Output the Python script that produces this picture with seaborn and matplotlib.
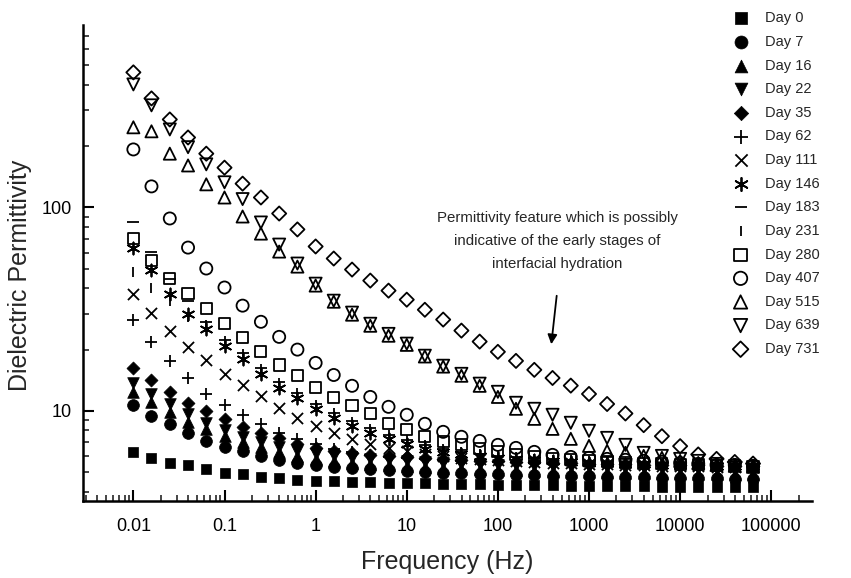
import numpy as np
import pandas as pd
import matplotlib
matplotlib.use("Agg")
import matplotlib.pyplot as plt
import seaborn as sns
from matplotlib.ticker import FixedLocator, FixedFormatter, LogLocator, NullFormatter

# ---- data ----
frequency = [0.01, 0.0158, 0.0251, 0.0398, 0.0631, 0.1, 0.158, 0.251, 0.398, 0.631,
             1, 1.58, 2.51, 3.98, 6.31, 10, 15.8, 25.1, 39.8, 63.1,
             100, 158, 251, 398, 631, 1000, 1580, 2510, 3980, 6310,
             10000, 15800, 25100, 39800, 63100]

day_0 = [6.28, 5.87, 5.54, 5.42, 5.18, 4.95, 4.90, 4.73, 4.68, 4.57, 4.52, 4.52, 4.47, 4.47, 4.42,
         4.42, 4.42, 4.37, 4.37, 4.37, 4.32, 4.32, 4.32, 4.32, 4.28, 4.28, 4.28, 4.28, 4.28, 4.23,
         4.23, 4.23, 4.23, 4.23, 4.23]
day_7 = [10.7, 9.45, 8.63, 7.79, 7.11, 6.65, 6.35, 6.00, 5.74, 5.54, 5.42, 5.30, 5.24, 5.18, 5.12,
         5.06, 5.00, 4.95, 4.95, 4.90, 4.90, 4.84, 4.84, 4.78, 4.78, 4.78, 4.73, 4.73, 4.73, 4.68,
         4.68, 4.68, 4.68, 4.63, 4.63]
day_16 = [12.4, 11.1, 9.89, 8.83, 8.15, 7.53, 7.04, 6.65, 6.28, 6.00, 5.80, 5.67, 5.54, 5.48, 5.42,
          5.36, 5.30, 5.24, 5.18, 5.18, 5.12, 5.12, 5.06, 5.06, 5.00, 5.00, 5.00, 4.95, 4.95, 4.95,
          4.95, 4.90, 4.90, 4.90, 4.90]
day_22 = [13.7, 12.1, 10.8, 9.66, 8.73, 8.06, 7.45, 7.04, 6.65, 6.35, 6.14, 6.00, 5.87, 5.80, 5.74,
          5.67, 5.61, 5.54, 5.48, 5.48, 5.42, 5.42, 5.36, 5.36, 5.30, 5.30, 5.30, 5.24, 5.24, 5.24,
          5.24, 5.18, 5.18, 5.18, 5.18]
day_35 = [16.3, 14.2, 12.4, 10.95, 10.0, 9.13, 8.34, 7.79, 7.36, 6.88, 6.57, 6.35, 6.21, 6.07, 6.00,
          5.93, 5.87, 5.80, 5.74, 5.67, 5.67, 5.61, 5.61, 5.54, 5.54, 5.48, 5.48, 5.48, 5.42, 5.42,
          5.42, 5.42, 5.36, 5.36, 5.36]
day_62 = [28.1, 21.9, 17.6, 14.5, 12.1, 10.7, 9.56, 8.63, 7.79, 7.28, 6.88, 6.50, 6.28, 6.07, 5.93,
          5.87, 5.80, 5.74, 5.67, 5.67, 5.61, 5.61, 5.54, 5.54, 5.54, 5.48, 5.48, 5.48, 5.42, 5.42,
          5.42, 5.42, 5.36, 5.36, 5.36]
day_111 = [37.7, 30.4, 24.8, 20.7, 17.8, 15.2, 13.4, 11.85, 10.3, 9.24, 8.44, 7.79, 7.28, 6.88, 6.57,
           6.35, 6.14, 6.00, 5.87, 5.80, 5.74, 5.67, 5.61, 5.54, 5.54, 5.48, 5.48, 5.42, 5.42, 5.36,
           5.36, 5.36, 5.30, 5.30, 5.30]
day_146 = [63.5, 49.0, 37.7, 30.1, 25.3, 20.9, 18.0, 15.2, 13.0, 11.6, 10.2, 9.24, 8.44, 7.79, 7.28,
           6.88, 6.50, 6.28, 6.14, 6.00, 5.87, 5.80, 5.74, 5.67, 5.61, 5.54, 5.54, 5.48, 5.48, 5.42,
           5.42, 5.42, 5.36, 5.36, 5.36]
day_183 = [85.3, 60.7, 44.7, 34.5, 27.2, 22.3, 19.2, 16.2, 13.8, 12.3, 10.8, 9.8, 8.9, 8.2, 7.6,
           7.2, 6.8, 6.5, 6.3, 6.15, 6.0, 5.9, 5.85, 5.78, 5.7, 5.65, 5.6, 5.57, 5.55, 5.52,
           5.5, 5.48, 5.45, 5.43, 5.42]
day_231 = [47.9, 40.4, 34.8, 29.0, 26.5, 22.0, 19.0, 16.0, 13.7, 12.2, 10.7, 9.7, 8.85, 8.15, 7.6,
           7.15, 6.75, 6.5, 6.3, 6.15, 6.0, 5.9, 5.82, 5.75, 5.7, 5.65, 5.6, 5.56, 5.53, 5.5,
           5.48, 5.46, 5.44, 5.42, 5.4]
day_280 = [70.4, 54.8, 44.7, 37.7, 31.8, 26.8, 22.9, 19.5, 16.8, 14.9, 13.0, 11.6, 10.58, 9.66, 8.63,
           8.06, 7.45, 7.04, 6.80, 6.50, 6.28, 6.07, 5.93, 5.80, 5.74, 5.67, 5.61, 5.54, 5.48, 5.48,
           5.42, 5.42, 5.36, 5.36, 5.30]
day_407 = [193, 127, 88.3, 63.5, 50.1, 40.4, 32.9, 27.4, 23.1, 20.0, 17.2, 15.0, 13.27, 11.7, 10.46,
           9.56, 8.63, 7.88, 7.45, 7.11, 6.80, 6.57, 6.28, 6.07, 5.93, 5.87, 5.80, 5.74, 5.67, 5.61,
           5.54, 5.48, 5.42, 5.42, 5.36]
day_515 = [248, 237, 184, 161, 130, 112, 90.3, 74.4, 60.7, 51.2, 41.3, 34.4, 29.7, 26.2, 23.4,
           21.1, 18.5, 16.5, 14.87, 13.27, 11.7, 10.23, 9.13, 8.15, 7.28, 6.72, 6.35, 6.21, 6.00, 5.87,
           5.67, 5.54, 5.42, 5.36, 5.30]
day_639 = [403, 318, 242, 198, 163, 133, 110, 84.4, 65.7, 53.0, 42.2, 34.8, 30.4, 26.8, 23.9,
           21.4, 18.66, 16.66, 15.2, 13.6, 12.4, 10.95, 10.23, 9.56, 8.73, 7.97, 7.36, 6.80, 6.21, 6.00,
           5.80, 5.67, 5.48, 5.24, 5.06]
day_731 = [462, 344, 271, 221, 184, 157, 131, 112, 93.4, 78, 64.3, 56.1, 49.5, 43.7, 39.0,
           35.2, 31.4, 28.1, 24.8, 21.9, 19.5, 17.6, 15.9, 14.5, 13.3, 12.1, 10.8, 9.7, 8.5, 7.5,
           6.7, 6.1, 5.8, 5.6, 5.5]

day_labels = ["Day 0", "Day 7", "Day 16", "Day 22", "Day 35", "Day 62", "Day 111", "Day 146",
              "Day 183", "Day 231", "Day 280", "Day 407", "Day 515", "Day 639", "Day 731"]
series = [day_0, day_7, day_16, day_22, day_35, day_62, day_111, day_146,
          day_183, day_231, day_280, day_407, day_515, day_639, day_731]

x_tick_values = [0.01, 0.1, 1, 10, 100, 1000, 10000, 100000]
x_tick_labels = ["0.01", "0.1", "1", "10", "100", "1000", "10000", "100000"]
y_tick_values = [10, 100]
y_tick_labels = ["10", "100"]

annotation_text = ("Permittivity feature which is possibly\n"
                   "indicative of the early stages of\n"
                   "interfacial hydration")

# ---- styles ----
# (marker, filled, size)
styles = [
    ("s", True, 62), ("o", True, 72), ("^", True, 70), ("v", True, 70), ("D", True, 44),
    ("+", False, 80), ("x", False, 64), ((6, 2, 0), False, 75),
    ("_", False, 64), ("|", False, 50),
    ("s", "open", 64), ("o", "open", 76), ("^", "open", 76), ("v", "open", 76), ("D", "open", 52),
]

frames = []
for lab, vals in zip(day_labels, series):
    frames.append(pd.DataFrame({"Frequency": frequency, "Permittivity": vals, "Day": lab}))
df = pd.concat(frames, ignore_index=True)

sns.set_style("ticks")
plt.rcParams["font.family"] = ["Liberation Sans", "DejaVu Sans"]

fig = plt.figure(figsize=(8.51, 5.78), dpi=100)
ax = fig.add_axes([83 / 851, 1 - 501 / 578, (812 - 83) / 851, (501 - 25) / 578])

for lab, (mk, filled, sz) in zip(day_labels, styles):
    sub = df[df["Day"] == lab]
    if filled is True:
        sns.scatterplot(data=sub, x="Frequency", y="Permittivity", marker=mk, s=sz,
                        color="black", edgecolor="black", linewidth=0.5, ax=ax, label=lab)
    elif filled == "open":
        sns.scatterplot(data=sub, x="Frequency", y="Permittivity", marker=mk, s=sz,
                        facecolors="none", edgecolor="black", linewidth=1.3, ax=ax, label=lab)
    else:
        sns.scatterplot(data=sub, x="Frequency", y="Permittivity", marker=mk, s=sz,
                        color="black", linewidth=1.3, ax=ax, label=lab)

ax.set_xscale("log")
ax.set_yscale("log")
ax.set_xlim(0.0028, 2.8e5)
ax.set_ylim(3.6, 790)

ax.xaxis.set_major_locator(FixedLocator(x_tick_values))
ax.xaxis.set_major_formatter(FixedFormatter(x_tick_labels))
ax.xaxis.set_minor_locator(LogLocator(base=10, subs=np.arange(2, 10), numticks=20))
ax.xaxis.set_minor_formatter(NullFormatter())
ax.yaxis.set_major_locator(FixedLocator(y_tick_values))
ax.yaxis.set_major_formatter(FixedFormatter(y_tick_labels))
ax.yaxis.set_minor_locator(LogLocator(base=10, subs=np.arange(2, 10), numticks=20))
ax.yaxis.set_minor_formatter(NullFormatter())

ax.tick_params(which="major", direction="in", length=8, width=1.5, labelsize=13, colors="black")
ax.tick_params(axis="x", which="major", pad=12)
ax.tick_params(axis="y", which="major", pad=8)
ax.tick_params(which="minor", direction="in", length=4.5, width=1.2)

for side in ["top", "right"]:
    ax.spines[side].set_visible(False)
for side in ["left", "bottom"]:
    ax.spines[side].set_linewidth(1.8)
    ax.spines[side].set_color("black")

ax.set_xlabel("Frequency (Hz)", fontsize=18, labelpad=11)
ax.set_ylabel("Dielectric Permittivity", fontsize=18)
ax.yaxis.set_label_coords(-0.07, 0.475)

leg = ax.legend(loc="upper left", bbox_to_anchor=(726 / 851, 1 - 4 / 578),
                bbox_transform=fig.transFigure, frameon=False, fontsize=10.5,
                handlelength=1.0, handletextpad=1.2, labelspacing=0.66, borderpad=0,
                scatterpoints=1, markerscale=1.1)

fig.text(557 / 851, 1 - 241 / 578, annotation_text, ha="center", va="center",
         fontsize=10.8, linespacing=1.85)
ax.annotate("", xy=(551, 578 - 347), xycoords="figure pixels",
            xytext=(557, 578 - 293), textcoords="figure pixels",
            arrowprops=dict(arrowstyle="-|>", color="black", lw=1.3, mutation_scale=14))

fig.savefig("out.png", dpi=100)
